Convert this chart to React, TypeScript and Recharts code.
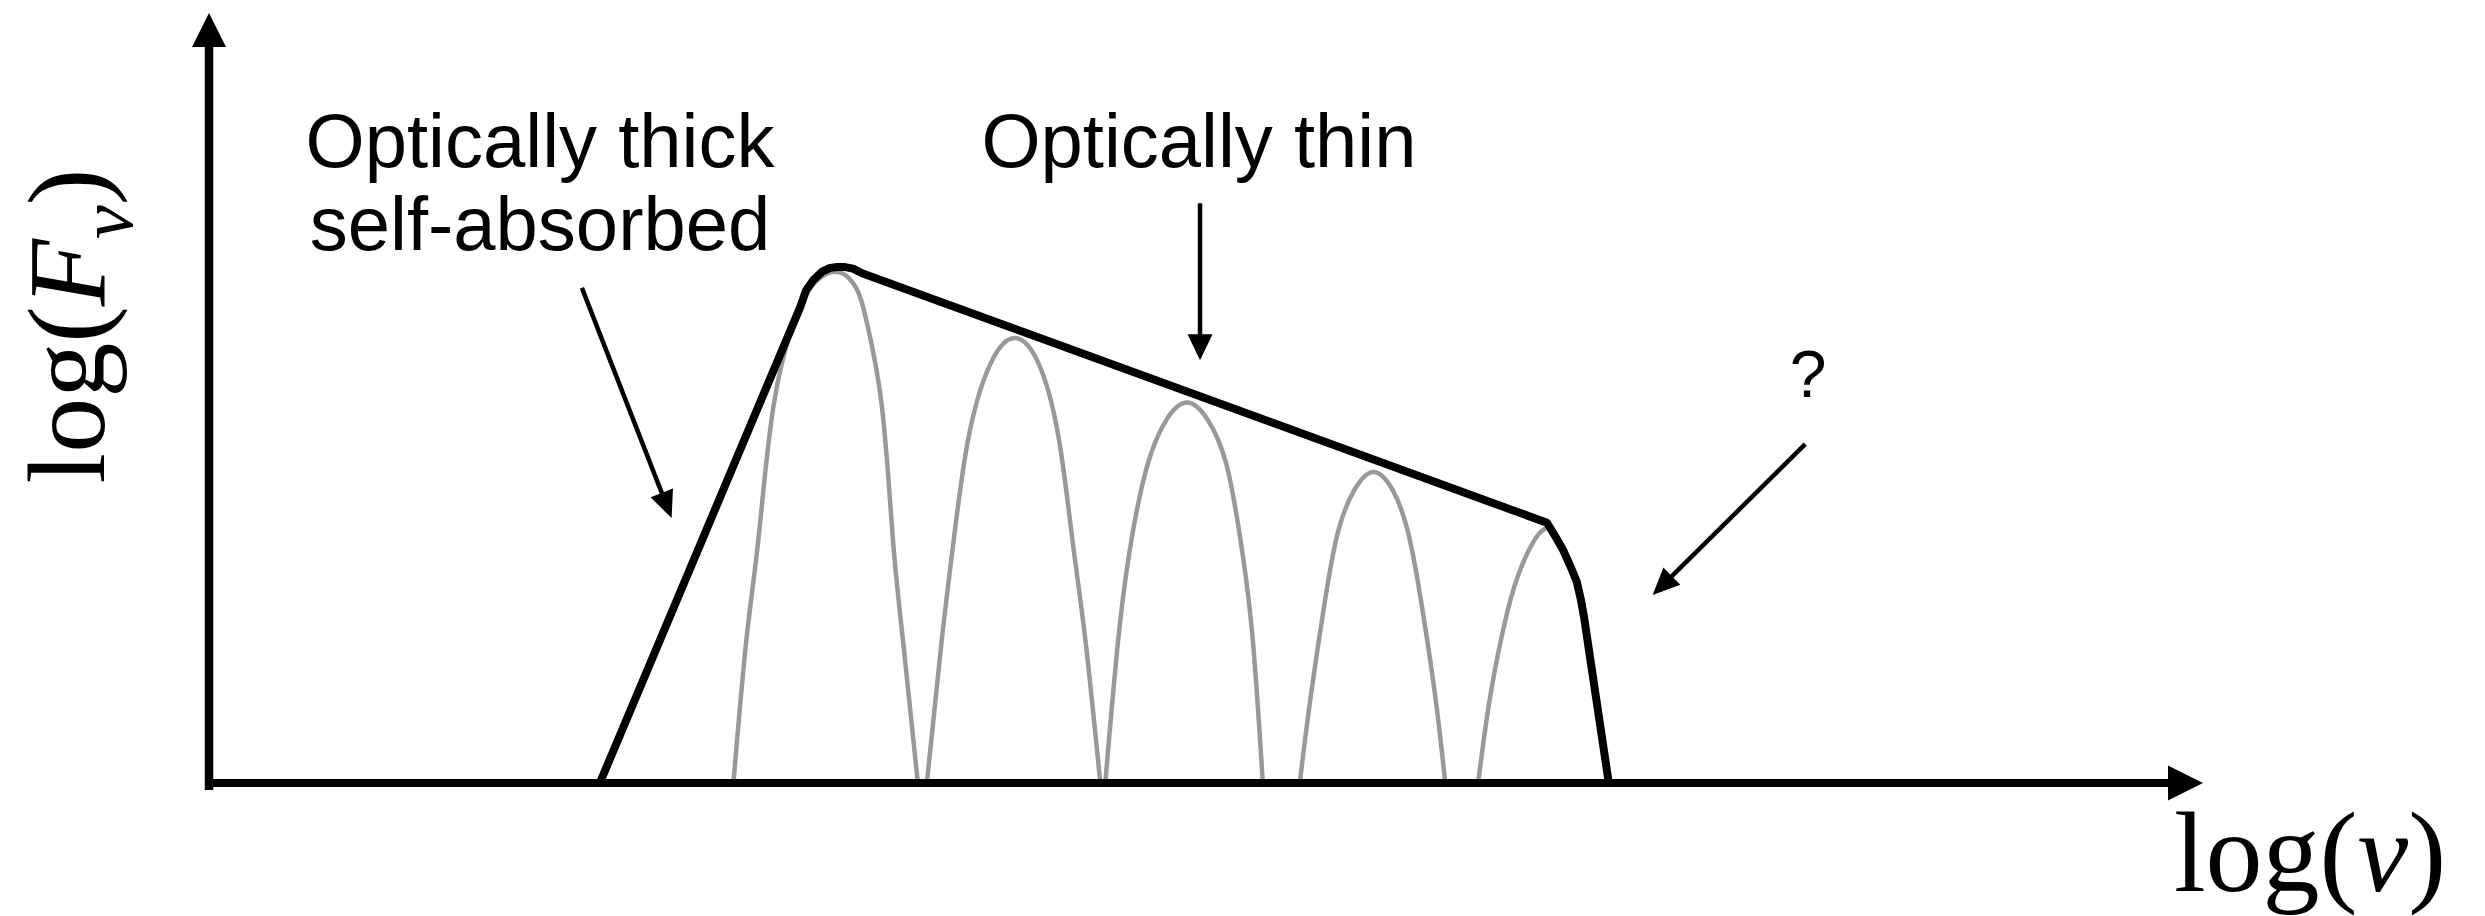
import { LineChart, Line, XAxis, YAxis, ReferenceLine } from 'recharts';

const WIDTH = 2485;
const HEIGHT = 916;

// Spectrum envelope: self-absorbed rise, turnover, thin power law, cut-off
const envelopeX = [3.92, 5.93, 5.99, 6.06, 6.15, 6.23, 6.3, 6.38, 6.46, 6.55, 13.42, 13.51, 13.58, 13.65, 13.72, 13.76, 13.79, 14.04];
const envelopeY = [0, 6.18, 6.4, 6.53, 6.64, 6.69, 6.7, 6.7, 6.68, 6.62, 3.38, 3.19, 3.03, 2.83, 2.61, 2.38, 2.17, 0];

// Individual emission components (grey humps)
const hump1X = [5.26, 5.39, 5.51, 5.66, 5.86, 6.03, 6.28, 6.49, 6.6, 6.75, 6.86, 6.96, 7.11];
const hump1Y = [0, 1.86, 3.16, 4.88, 5.97, 6.43, 6.64, 6.43, 5.97, 4.88, 3.16, 1.86, 0];

const hump2X = [7.2, 7.35, 7.47, 7.62, 7.84, 8.08, 8.32, 8.52, 8.66, 8.79, 8.94];
const hump2Y = [0, 1.86, 3.16, 4.5, 5.45, 5.78, 5.45, 4.5, 3.16, 1.86, 0];

const hump3X = [8.99, 9.13, 9.27, 9.42, 9.6, 9.81, 10.02, 10.2, 10.33, 10.46, 10.57];
const hump3Y = [0, 1.99, 3.29, 4.16, 4.71, 4.94, 4.71, 4.16, 3.29, 1.99, 0];

const hump4X = [10.94, 11.05, 11.2, 11.33, 11.49, 11.68, 11.87, 12.02, 12.15, 12.3, 12.4];
const hump4Y = [0, 1.12, 2.42, 3.29, 3.81, 4.04, 3.81, 3.29, 2.42, 1.12, 0];

const hump5X = [12.73, 12.85, 13.02, 13.18, 13.4, 13.58, 13.72, 13.79, 14.04];
const hump5Y = [0, 1.12, 2.21, 2.86, 3.3, 3.03, 2.61, 2.17, 0];

// Annotation arrows: [x1, y1, x2, y2] in data units (tail -> head)
const thickArrow = [3.74, 6.43, 4.64, 3.44];
const thinArrow = [9.94, 7.53, 9.94, 5.49];
const cutoffArrow = [16.01, 4.4, 14.48, 2.44];

const zip = (xs: number[], ys: number[]) => xs.map((x, i) => ({ x, y: ys[i] }));

const envelope = zip(envelopeX, envelopeY);
const humps = [
  zip(hump1X, hump1Y),
  zip(hump2X, hump2Y),
  zip(hump3X, hump3Y),
  zip(hump4X, hump4Y),
  zip(hump5X, hump5Y),
];

// line with a filled triangular head at (x2, y2)
const arrow = (width: number, head: number, headW: number) => (props: any) => {
  const { x1, y1, x2, y2 } = props;
  const dx = x2 - x1;
  const dy = y2 - y1;
  const len = Math.hypot(dx, dy) || 1;
  const ux = dx / len;
  const uy = dy / len;
  const bx = x2 - ux * head;
  const by = y2 - uy * head;
  const px = (-uy * headW) / 2;
  const py = (ux * headW) / 2;
  return (
    <g>
      <line x1={x1} y1={y1} x2={bx + ux} y2={by + uy} stroke="#000" strokeWidth={width} />
      <polygon points={`${x2},${y2} ${bx + px},${by + py} ${bx - px},${by - py}`} fill="#000" />
    </g>
  );
};

const seg = (a: number[]) => [
  { x: a[0], y: a[1] },
  { x: a[2], y: a[3] },
];

const sans = '"Liberation Sans", Arial, Helvetica, sans-serif';
const serif = '"Liberation Serif", "Times New Roman", serif';

export default function App() {
  return (
    <div style={{ position: 'absolute', left: 0, top: 0, width: WIDTH, height: HEIGHT, background: '#fff' }}>
      <LineChart width={WIDTH} height={HEIGHT} margin={{ top: 13, right: 282, bottom: 133, left: 209 }}>
        <XAxis type="number" dataKey="x" domain={[0, 20]} allowDataOverflow hide />
        <YAxis type="number" dataKey="y" domain={[0, 10]} allowDataOverflow hide />

        {humps.map((d, i) => (
          <Line
            key={i}
            data={d}
            dataKey="y"
            type="natural"
            stroke="#999999"
            strokeWidth={4.5}
            dot={false}
            activeDot={false}
            isAnimationActive={false}
          />
        ))}

        <Line
          data={envelope}
          dataKey="y"
          type="linear"
          stroke="#000"
          strokeWidth={8}
          strokeLinejoin="round"
          dot={false}
          activeDot={false}
          isAnimationActive={false}
        />

        {/* axes with arrow heads */}
        <ReferenceLine segment={seg([0, -0.09, 0, 10])} ifOverflow="visible" shape={arrow(8.5, 34, 34)} />
        <ReferenceLine segment={seg([-0.04, 0, 20, 0])} ifOverflow="visible" shape={arrow(8, 35, 35)} />

        {/* annotation arrows */}
        <ReferenceLine segment={seg(thickArrow)} ifOverflow="visible" shape={arrow(4.5, 27, 24)} />
        <ReferenceLine segment={seg(thinArrow)} ifOverflow="visible" shape={arrow(4.5, 26, 25)} />
        <ReferenceLine segment={seg(cutoffArrow)} ifOverflow="visible" shape={arrow(4.5, 27, 24)} />
      </LineChart>

      <svg
        width={WIDTH}
        height={HEIGHT}
        style={{ position: 'absolute', left: 0, top: 0, pointerEvents: 'none' }}
      >
        <g fontFamily={sans} fontSize={76} fill="#000" textAnchor="middle">
          <text x={540} y={167}>Optically thick</text>
          <text x={540} y={250}>self-absorbed</text>
          <text x={1199} y={167}>Optically thin</text>
          <text x={1808} y={397} fontSize={66}>?</text>
        </g>
        <g fontFamily={serif} fill="#000">
          <text x={104} y={326} fontSize={110} textAnchor="middle" transform="rotate(-90, 104, 326)">
            log(<tspan fontStyle="italic">F</tspan>
            <tspan fontStyle="italic" fontSize={76} dy={28}>ν</tspan>
            <tspan dy={-28}>)</tspan>
          </text>
          <text x={2310} y={891} fontSize={114} textAnchor="middle">
            log(<tspan fontStyle="italic">ν</tspan>)
          </text>
        </g>
      </svg>
    </div>
  );
}
